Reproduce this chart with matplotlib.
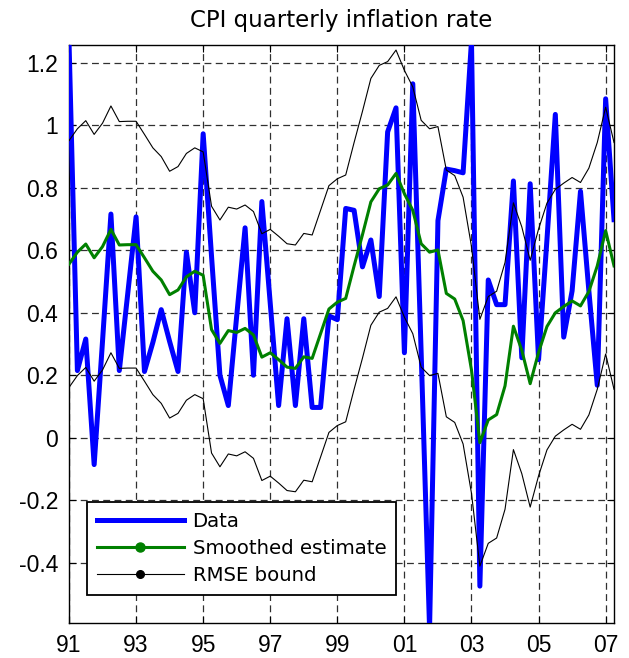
import numpy as np
import matplotlib
matplotlib.use("Agg")
import matplotlib.pyplot as plt
from matplotlib.lines import Line2D

plt.rcParams["font.family"] = ["Liberation Sans", "DejaVu Sans"]
plt.rcParams["axes.unicode_minus"] = False

# quarterly, 1991Q1 .. 2007Q2
start_year = 1991
n_quarters = 66

data = [1.27, 0.215, 0.316, -0.086, 0.31, 0.716, 0.215, 0.46, 0.707, 0.212,
        0.305, 0.41, 0.308, 0.212, 0.594, 0.40, 0.973, 0.58, 0.2, 0.103,
        0.39, 0.672, 0.2, 0.756, 0.43, 0.103, 0.381, 0.103, 0.381, 0.097,
        0.097, 0.39, 0.378, 0.734, 0.728, 0.547, 0.633, 0.452, 0.979, 1.056,
        0.272, 1.133, 0.27, -0.61, 0.695, 0.86, 0.855, 0.848, 1.27, -0.475,
        0.505, 0.426, 0.426, 0.822, 0.256, 0.813, 0.25, 0.634, 1.035, 0.322,
        0.47, 0.789, 0.47, 0.168, 1.085, 0.698]

smoothed = [0.556, 0.594, 0.620, 0.576, 0.612, 0.667, 0.617, 0.618, 0.618, 0.576,
            0.533, 0.505, 0.458, 0.473, 0.515, 0.533, 0.52, 0.346, 0.302, 0.343,
            0.337, 0.35, 0.329, 0.258, 0.272, 0.25, 0.226, 0.222, 0.259, 0.254,
            0.333, 0.412, 0.434, 0.446, 0.55, 0.65, 0.755, 0.797, 0.809, 0.846,
            0.781, 0.728, 0.621, 0.594, 0.601, 0.462, 0.444, 0.375, 0.217, -0.016,
            0.057, 0.074, 0.166, 0.357, 0.28, 0.173, 0.273, 0.356, 0.40, 0.42,
            0.438, 0.422, 0.468, 0.55, 0.663, 0.55]

rmse = 0.395  # half-width of the bound band

xtick_years = [1991, 1993, 1995, 1997, 1999, 2001, 2003, 2005, 2007]
xtick_labels = ["91", "93", "95", "97", "99", "01", "03", "05", "07"]
ytick_vals = [-0.4, -0.2, 0, 0.2, 0.4, 0.6, 0.8, 1.0, 1.2]
ytick_labels = ["-0.4", "-0.2", "0", "0.2", "0.4", "0.6", "0.8", "1", "1.2"]

t = start_year + 0.25 * np.arange(n_quarters)
sm = np.array(smoothed)

fig = plt.figure(figsize=(6.29, 6.58), dpi=100)
ax = fig.add_axes([0.1097, 0.0537, 0.8665, 0.8783])

ax.plot(t, data, color="#0000ff", lw=3.6, solid_joinstyle="round", zorder=3)
ax.plot(t, sm, color="#008000", lw=2.2, zorder=4)
ax.plot(t, sm + rmse, color="black", lw=0.8, zorder=5)
ax.plot(t, sm - rmse, color="black", lw=0.8, zorder=5)

ax.set_xlim(1991, 2007.25)
ax.set_ylim(-0.592, 1.258)
ax.set_xticks(xtick_years)
ax.set_xticklabels(xtick_labels)
ax.set_yticks(ytick_vals)
ax.set_yticklabels(ytick_labels)
ax.tick_params(direction="in", length=5, width=0.8, labelsize=16.5,
               top=True, right=True, pad=8)
ax.grid(True, color="#303030", lw=0.9, dashes=(5.5, 3.5), zorder=1)
for s in ax.spines.values():
    s.set_linewidth(1.0)

ax.set_title("CPI quarterly inflation rate", fontsize=16.5, pad=13,
             family="DejaVu Sans")

handles = [
    Line2D([], [], color="#0000ff", lw=3.6),
    Line2D([], [], color="#008000", lw=2.2, marker="o", markersize=6.5),
    Line2D([], [], color="black", lw=0.8, marker="o", markersize=5.5),
]
leg = ax.legend(handles, ["Data", "Smoothed estimate", "RMSE bound"],
                loc="lower left", bbox_to_anchor=(0.033, 0.048),
                borderaxespad=0, prop={"family": "DejaVu Sans", "size": 14.2},
                handlelength=4.4, numpoints=1, fancybox=False, framealpha=1,
                edgecolor="black", labelspacing=0.4, borderpad=0.5,
                handletextpad=0.45)
leg.get_frame().set_linewidth(1.3)
leg.set_zorder(10)

fig.savefig("out.png", dpi=100)
